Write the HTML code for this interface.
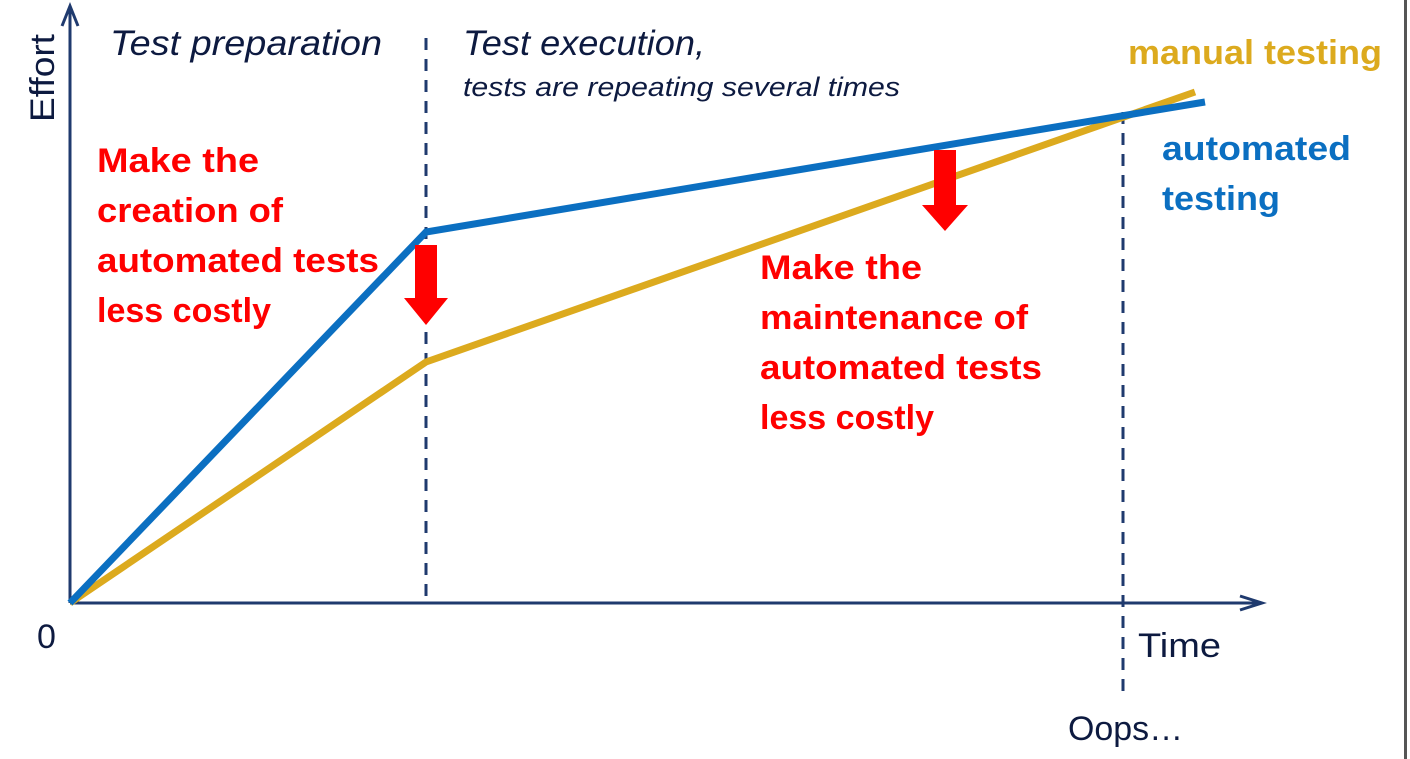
<!DOCTYPE html>
<html><head><meta charset="utf-8"><style>
html,body{margin:0;padding:0;background:#fff;}
svg{display:block;}
text{font-family:"Liberation Sans",sans-serif;}
</style></head><body>
<svg width="1410" height="759" viewBox="0 0 1410 759" xmlns="http://www.w3.org/2000/svg">
<rect x="0" y="0" width="1410" height="759" fill="#fff"/>
<rect x="1404" y="0" width="3" height="759" fill="#555"/>
<!-- axes -->
<line x1="70" y1="603" x2="70" y2="10" stroke="#1f3a6e" stroke-width="3"/>
<polyline points="62,26 70,6 78,26" fill="none" stroke="#1f3a6e" stroke-width="3"/>
<line x1="70" y1="603" x2="1260" y2="603" stroke="#1f3a6e" stroke-width="3"/>
<polyline points="1240,596 1262,603 1240,610" fill="none" stroke="#1f3a6e" stroke-width="3"/>
<!-- dashed -->
<line x1="426" y1="38" x2="426" y2="600" stroke="#1f3a6e" stroke-width="3" stroke-dasharray="12,9"/>
<line x1="1123" y1="112" x2="1123" y2="695" stroke="#1f3a6e" stroke-width="3" stroke-dasharray="12,9"/>
<!-- curves -->
<polyline points="70,603 426,362 1195,92" fill="none" stroke="#dcaa1e" stroke-width="7"/>
<polyline points="70,603 426,232 1205,102" fill="none" stroke="#0b6fc1" stroke-width="7"/>
<!-- red arrows -->
<polygon points="415,245 437,245 437,298 448,298 426,325 404,298 415,298" fill="#f00"/>
<polygon points="934,150 956,150 956,205 968,205 945,231 922,205 934,205" fill="#f00"/>
<!-- labels -->
<text x="110" y="55" font-size="35" font-style="italic" fill="#0d1a40" textLength="272" lengthAdjust="spacingAndGlyphs">Test preparation</text>
<text x="463" y="55" font-size="35" font-style="italic" fill="#0d1a40" textLength="242" lengthAdjust="spacingAndGlyphs">Test execution,</text>
<text x="463" y="96" font-size="27" font-style="italic" fill="#0d1a40" textLength="437" lengthAdjust="spacingAndGlyphs">tests are repeating several times</text>
<text transform="translate(54,122) rotate(-90)" font-size="34" fill="#0d1a40" textLength="88" lengthAdjust="spacingAndGlyphs">Effort</text>
<g font-size="34" font-weight="bold" fill="#f00">
<text x="97" y="172" textLength="162" lengthAdjust="spacingAndGlyphs">Make the</text>
<text x="97" y="222" textLength="186" lengthAdjust="spacingAndGlyphs">creation of</text>
<text x="97" y="272" textLength="282" lengthAdjust="spacingAndGlyphs">automated tests</text>
<text x="97" y="322" textLength="174" lengthAdjust="spacingAndGlyphs">less costly</text>
<text x="760" y="279" textLength="162" lengthAdjust="spacingAndGlyphs">Make the</text>
<text x="760" y="329" textLength="268" lengthAdjust="spacingAndGlyphs">maintenance of</text>
<text x="760" y="379" textLength="282" lengthAdjust="spacingAndGlyphs">automated tests</text>
<text x="760" y="429" textLength="174" lengthAdjust="spacingAndGlyphs">less costly</text>
</g>
<text x="1128" y="64" font-size="34" font-weight="bold" fill="#dcaa1e" textLength="254" lengthAdjust="spacingAndGlyphs">manual testing</text>
<text x="1162" y="160" font-size="34" font-weight="bold" fill="#0b6fc1" textLength="189" lengthAdjust="spacingAndGlyphs">automated</text>
<text x="1162" y="210" font-size="34" font-weight="bold" fill="#0b6fc1" textLength="118" lengthAdjust="spacingAndGlyphs">testing</text>
<text x="37" y="648" font-size="34" fill="#0d1a40">0</text>
<text x="1138" y="657" font-size="34" fill="#0d1a40" textLength="83" lengthAdjust="spacingAndGlyphs">Time</text>
<text x="1068" y="740" font-size="34" fill="#0d1a40" textLength="115" lengthAdjust="spacingAndGlyphs">Oops…</text>
</svg>
</body></html>
